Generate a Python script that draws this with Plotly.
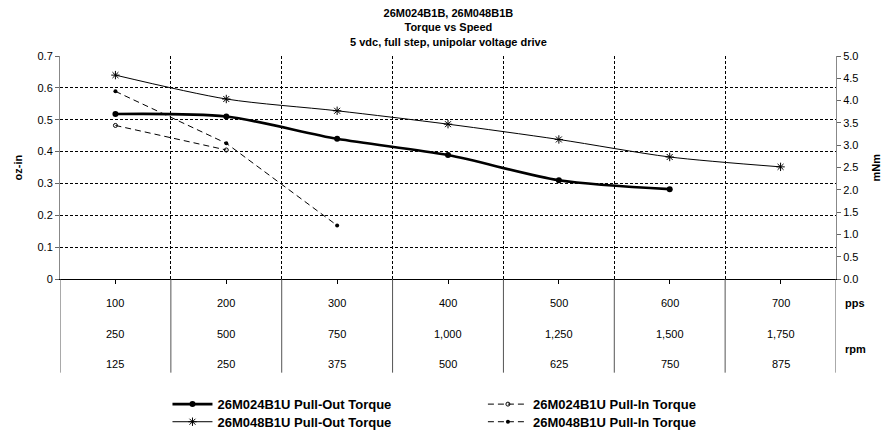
import plotly.graph_objects as go

# ---- data ----
pps = [100, 200, 300, 400, 500, 600, 700]
rpm_full = ["250", "500", "750", "1,000", "1,250", "1,500", "1,750"]
rpm_half = ["125", "250", "375", "500", "625", "750", "875"]

po_024 = [0.518, 0.510, 0.440, 0.389, 0.310, 0.282]
po_048 = [0.640, 0.565, 0.528, 0.486, 0.438, 0.383, 0.352]
pi_024 = [0.482, 0.405]
pi_048 = [0.589, 0.426, 0.168]

y_ticks = [0, 0.1, 0.2, 0.3, 0.4, 0.5, 0.6, 0.7]
y_ticktext = ["0", "0.1", "0.2", "0.3", "0.4", "0.5", "0.6", "0.7"]

FONT = "Liberation Sans, Arial, sans-serif"
idx = list(range(len(pps)))

fig = go.Figure()
fig.add_trace(go.Scatter(
    x=idx[:len(po_024)], y=po_024, name="26M024B1U Pull-Out Torque",
    mode="lines+markers", line=dict(color="black", width=2.6, shape="spline", smoothing=0.8),
    marker=dict(symbol="circle", size=6, color="black"), legend="legend"))
fig.add_trace(go.Scatter(
    x=idx[:len(pi_024)], y=pi_024, name="26M024B1U Pull-In Torque",
    mode="lines+markers", line=dict(color="black", width=1, dash="6px,4px"),
    marker=dict(symbol="circle-open", size=4, color="black", line=dict(width=1, color="black")),
    legend="legend2"))
fig.add_trace(go.Scatter(
    x=idx[:len(po_048)], y=po_048, name="26M048B1U Pull-Out Torque",
    mode="lines+markers", line=dict(color="black", width=1, shape="spline", smoothing=0.8),
    marker=dict(symbol="asterisk-open", size=7, color="black", line=dict(width=1, color="black")),
    legend="legend3"))
fig.add_trace(go.Scatter(
    x=idx[:len(pi_048)], y=pi_048, name="26M048B1U Pull-In Torque",
    mode="lines+markers", line=dict(color="black", width=1, dash="6px,4px"),
    marker=dict(symbol="circle", size=4, color="black"),
    legend="legend4"))
# secondary (mNm) axis carrier
fig.add_trace(go.Scatter(x=[None], y=[None], yaxis="y2", showlegend=False, hoverinfo="skip"))

shapes = []
# table vertical lines (category boundaries + left/right edges)
for b in [i - 0.5 for i in range(len(pps) + 1)]:
    shapes.append(dict(type="line", xref="x", yref="paper", x0=b, x1=b, y0=0, y1=-0.42,
                       line=dict(color="#555555", width=1)))

TXT = dict(size=11, family=FONT, color="black")
annotations = []
# table rows
for i in idx:
    annotations.append(dict(x=i, y=-0.108, xref="x", yref="paper", yanchor="middle",
                            text=str(pps[i]), showarrow=False, font=TXT))
    annotations.append(dict(x=i, y=-0.247, xref="x", yref="paper", yanchor="middle",
                            text=rpm_full[i], showarrow=False, font=TXT))
    annotations.append(dict(x=i, y=-0.382, xref="x", yref="paper", yanchor="middle",
                            text=rpm_half[i], showarrow=False, font=TXT))
annotations += [
    dict(x=1, y=-0.108, xref="paper", yref="paper", yanchor="middle", text="<b>pps</b>",
         xanchor="left", xshift=7, showarrow=False, font=TXT),
    dict(x=1, y=-0.315, xref="paper", yref="paper", yanchor="middle", text="<b>rpm</b>",
         xanchor="left", xshift=7, showarrow=False, font=TXT),
    dict(x=0, y=0.5, xref="paper", yref="paper", text="<b>oz-in</b>", textangle=-90,
         xanchor="center", xshift=-43, showarrow=False, font=TXT),
    dict(x=1, y=0.5, xref="paper", yref="paper", text="<b>mNm</b>", textangle=-90,
         xanchor="center", xshift=39, showarrow=False, font=TXT),
    dict(x=0.5, y=1.128, xref="paper", yref="paper", yanchor="middle", xanchor="center",
         text="<b>26M024B1B, 26M048B1B<br>Torque vs Speed<br>5 vdc, full step, unipolar voltage drive</b>",
         showarrow=False, font=TXT),
]

LEG = dict(xanchor="left", yanchor="top", orientation="v",
           font=dict(size=13, family=FONT, color="black", weight="bold"),
           bgcolor="rgba(0,0,0,0)", itemwidth=40)
col1, col2 = 0.1385, 0.545
row1, row2 = -0.494, -0.573

fig.update_layout(
    width=885, height=432,
    margin=dict(l=60, r=49, t=56, b=153, autoexpand=False),
    paper_bgcolor="white", plot_bgcolor="white",
    font=dict(family=FONT, size=11, color="black"),
    xaxis=dict(range=[-0.5, len(pps) - 0.5], tickvals=idx, ticktext=[""] * len(pps),
               ticks="outside", ticklen=4, tickcolor="black", showgrid=False, zeroline=False,
               showline=True, linecolor="black", linewidth=1,
               minor=dict(tickvals=[i + 0.5 for i in idx[:-1]], showgrid=True,
                          gridcolor="black", griddash="3px,2px", gridwidth=1, ticks="")),
    yaxis=dict(range=[0, 0.7], tickvals=y_ticks, ticktext=y_ticktext,
               ticks="outside", ticklen=4, tickcolor="#666", showline=True, linecolor="#888",
               linewidth=1, showgrid=True, gridcolor="black", griddash="3px,2px", gridwidth=1,
               zeroline=False, tickfont=TXT),
    yaxis2=dict(range=[0, 5], dtick=0.5, tickformat=".1f", overlaying="y", side="right",
                ticks="outside", ticklen=4, tickcolor="#666", showline=True, linecolor="#888",
                linewidth=1, showgrid=False, zeroline=False, tickfont=TXT),
    legend=dict(x=col1, y=row1, **LEG),
    legend2=dict(x=col2, y=row1, **LEG),
    legend3=dict(x=col1, y=row2, **LEG),
    legend4=dict(x=col2, y=row2, **LEG),
    shapes=shapes, annotations=annotations, showlegend=True,
)

fig.write_html("out.html", config={"displayModeBar": False},
               post_script="document.body.style.margin='0';document.body.style.padding='0';")
